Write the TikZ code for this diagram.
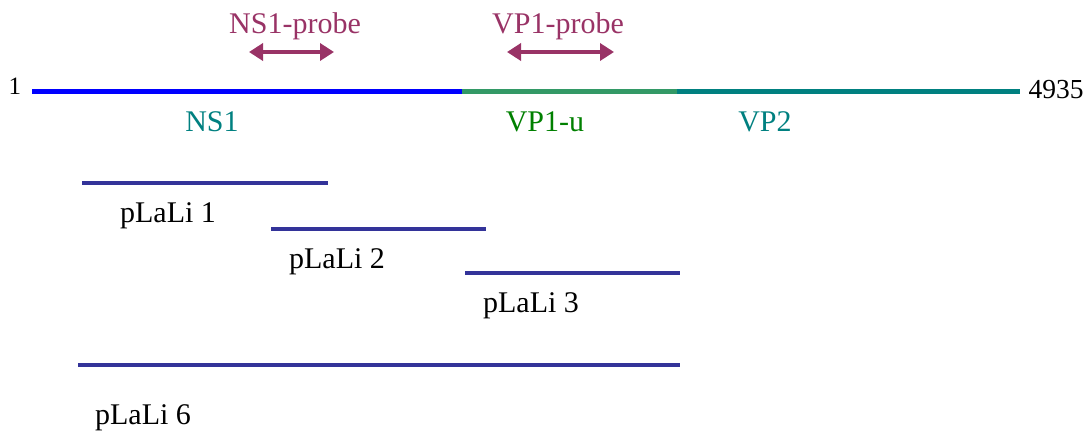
\documentclass[tikz,border=0pt]{standalone}
\usepackage{fontspec}
\setmainfont{Liberation Serif}
\usetikzlibrary{arrows.meta}
\definecolor{nsblue}{HTML}{0000FF}
\definecolor{vpgreen}{HTML}{339966}
\definecolor{vpteal}{HTML}{008080}
\definecolor{lbgreen}{HTML}{008000}
\definecolor{probe}{HTML}{993366}
\definecolor{clone}{HTML}{333399}
\begin{document}
\begin{tikzpicture}[x=1pt,y=-1pt,
  lbl/.style={anchor=base,inner sep=0pt,font=\fontsize{30}{34}\selectfont},
  seg/.style={line width=5pt},
  clonebar/.style={draw=clone,line width=3.5pt},
  probearrow/.style={draw=probe,line width=4pt,{Triangle[length=14pt,width=17pt]}-{Triangle[length=14pt,width=17pt]}}]
\useasboundingbox (0,0) rectangle (1091,432);
% genome line
\coordinate (g0) at (32,91);
\coordinate (g1) at (462,91);
\coordinate (g2) at (677,91);
\coordinate (g3) at (1020,91);
\draw[seg,nsblue] (g0) -- (g1);
\draw[seg,vpteal] (g2) -- (g3);
\draw[seg,vpgreen] (g1) -- (g2);
\node[lbl,font=\fontsize{25}{29}\selectfont] (one) at (15,94) {1};
\node[lbl,font=\fontsize{27.5}{32}\selectfont] (end) at (1056,98) {4935};
\node[lbl,text=vpteal] (ns1) at (212,131) {NS1};
\node[lbl,text=lbgreen] (vp1u) at (545,131) {VP1-u};
\node[lbl,text=vpteal] (vp2) at (765,131) {VP2};
% probes
\node[lbl,text=probe] (nsp) at (295,33) {NS1-probe};
\node[lbl,text=probe] (vpp) at (558,33) {VP1-probe};
\coordinate (nsa) at (249,52); \coordinate (nsb) at (334,52);
\coordinate (vpa) at (507,52); \coordinate (vpb) at (614,52);
\draw[probearrow] (nsa) -- (nsb);
\draw[probearrow] (vpa) -- (vpb);
% clones
\coordinate (c1a) at (82,183); \coordinate (c1b) at (328,183);
\coordinate (c2a) at (271,229); \coordinate (c2b) at (486,229);
\coordinate (c3a) at (465,273); \coordinate (c3b) at (680,273);
\coordinate (c6a) at (78,365); \coordinate (c6b) at (680,365);
\draw[clonebar] (c1a) -- (c1b);
\draw[clonebar] (c2a) -- (c2b);
\draw[clonebar] (c3a) -- (c3b);
\draw[clonebar] (c6a) -- (c6b);
\node[lbl] (p1) at (168,222) {pLaLi 1};
\node[lbl] (p2) at (337,268) {pLaLi 2};
\node[lbl] (p3) at (531,312) {pLaLi 3};
\node[lbl] (p6) at (143,424) {pLaLi 6};
\end{tikzpicture}
\end{document}
